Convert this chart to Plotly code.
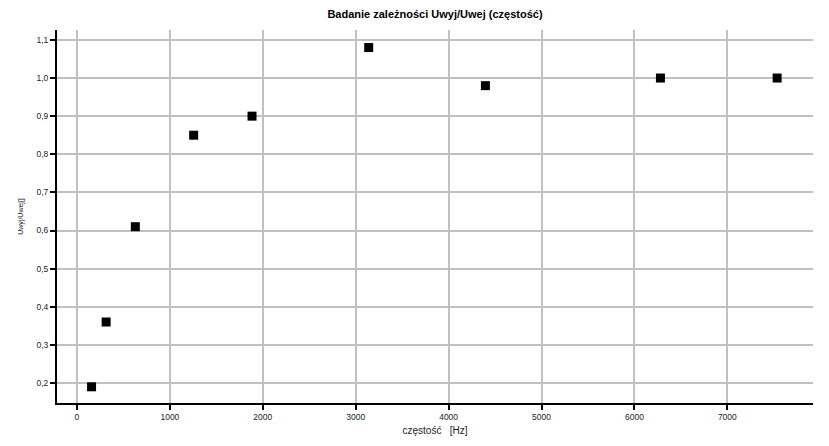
import plotly.graph_objects as go

freq = [157, 314, 628, 1256, 1884, 3140, 4396, 6280, 7536]
ratio = [0.19, 0.36, 0.61, 0.85, 0.90, 1.08, 0.98, 1.00, 1.00]
x_ticks = [0, 1000, 2000, 3000, 4000, 5000, 6000, 7000]
y_ticks = [0.2, 0.3, 0.4, 0.5, 0.6, 0.7, 0.8, 0.9, 1.0, 1.1]
y_labels = [f"{v:.1f}".replace(".", ",") for v in y_ticks]

title = "Badanie zależności Uwyj/Uwej (częstość)"
x_title = "częstość   [Hz]"
y_title = "Uwyj/Uwej[]"

fig = go.Figure(go.Scatter(
    x=freq, y=ratio, mode="markers",
    marker=dict(symbol="square", size=9, color="black"),
))

fig.update_layout(
    width=829, height=446,
    margin=dict(l=49, r=24, t=22, b=51),
    paper_bgcolor="white", plot_bgcolor="white",
    font=dict(family="Liberation Sans, Arial, sans-serif", color="#222"),
    title=dict(text=f"<b>{title}</b>", xref="paper", x=0.5, xanchor="center",
               yref="container", y=0.995, yanchor="top",
               font=dict(size=11, color="black"), automargin=False),
    showlegend=False,
)
fig.update_xaxes(
    range=[-215, 7922], tickvals=x_ticks, ticktext=[str(v) for v in x_ticks],
    showgrid=True, gridcolor="#c0c0c0", gridwidth=2,
    showline=True, linecolor="black", linewidth=2,
    ticks="outside", ticklen=5, tickwidth=2, tickcolor="black",
    tickfont=dict(size=8.5), zeroline=False, automargin=False,
    title=dict(text=x_title, font=dict(size=10), standoff=6),
)
fig.update_yaxes(
    range=[0.1475, 1.126], tickvals=y_ticks, ticktext=y_labels,
    showgrid=True, gridcolor="#c0c0c0", gridwidth=2,
    showline=True, linecolor="black", linewidth=2,
    ticks="outside", ticklen=5, tickwidth=2, tickcolor="black",
    tickfont=dict(size=8.5), zeroline=False, automargin=False,
    title=dict(text=y_title, font=dict(size=7), standoff=12),
)

fig.write_html("out.html")
